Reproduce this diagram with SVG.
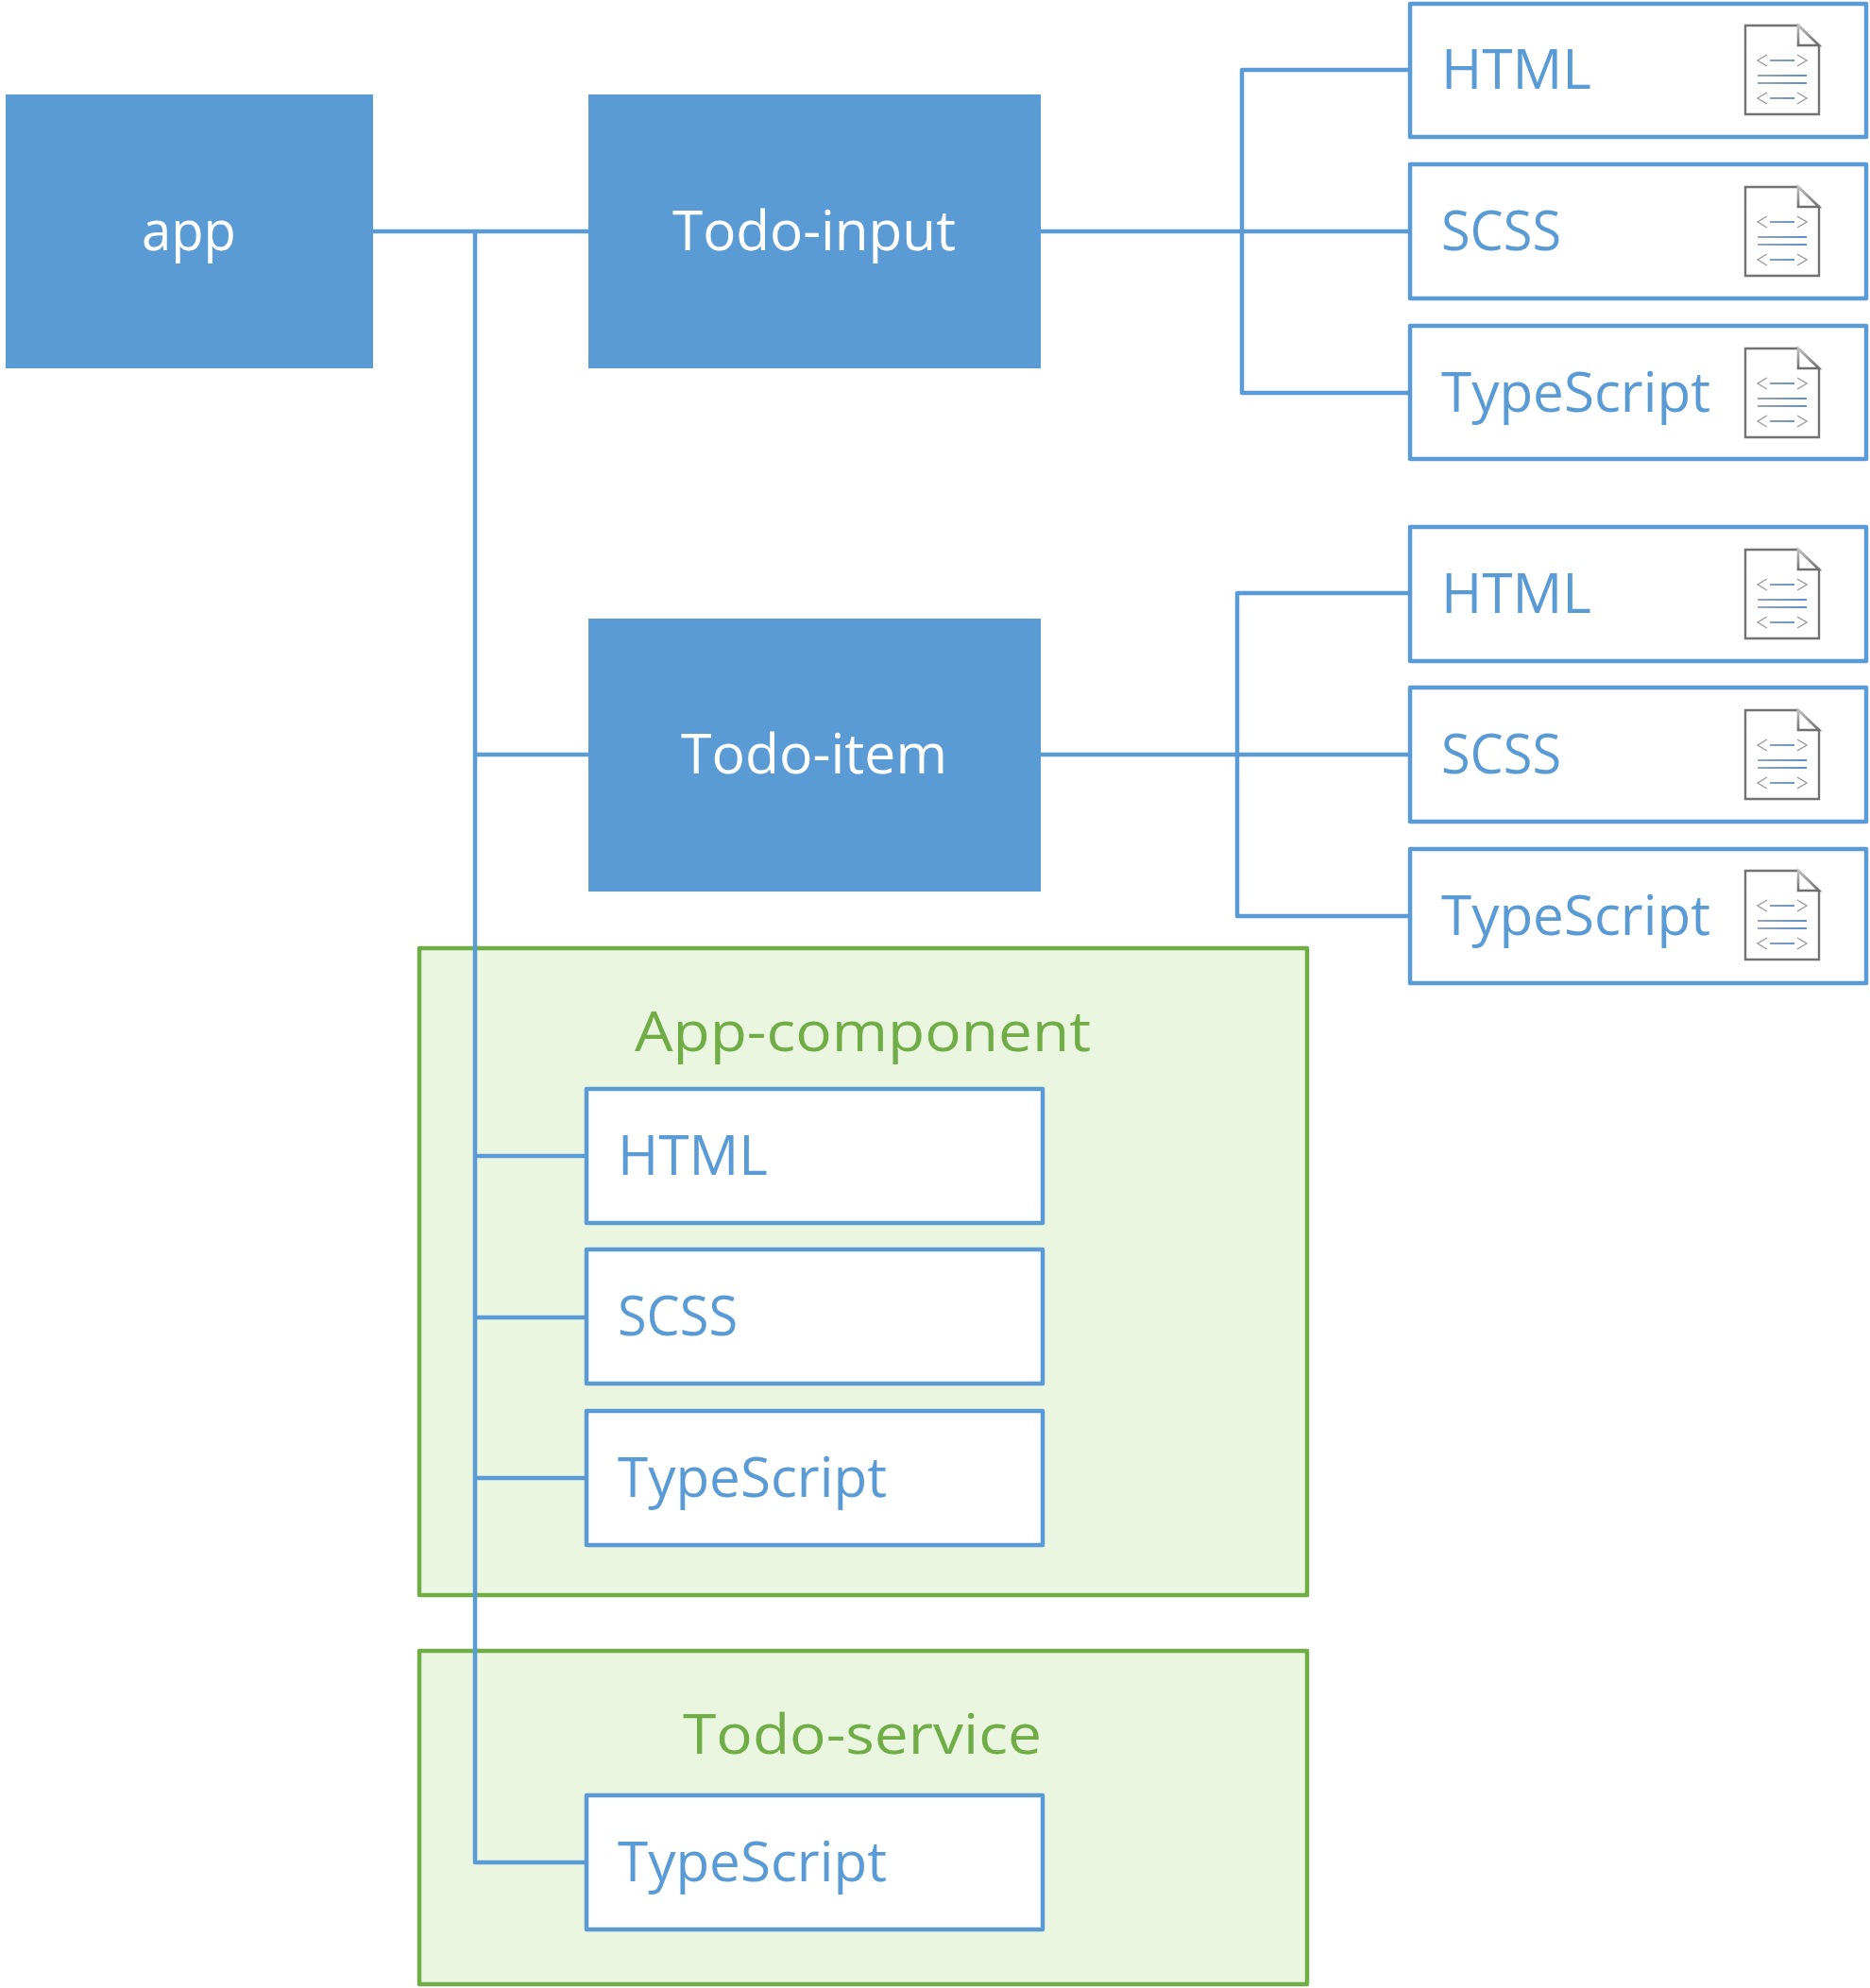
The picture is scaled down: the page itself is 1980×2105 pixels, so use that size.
<svg xmlns="http://www.w3.org/2000/svg" width="1980" height="2105" viewBox="0 0 1980 2105">
<style>
text{font-family:"Open Sans","Noto Sans","Liberation Sans",sans-serif;font-size:58px}
.solid{fill:#5b9bd5;stroke:none}
.box{fill:#fff;stroke:#5b9bd5;stroke-width:4.5;stroke-linejoin:round}
.group{fill:#eaf6e0;stroke:#70ad47;stroke-width:4.5;stroke-linejoin:round}
.w{fill:#fff}
.b{fill:#5b9bd5}
.g{fill:#70ad47}
.c{fill:none;stroke:#5b9bd5;stroke-width:4.5;stroke-linecap:round;stroke-linejoin:round}
.ic{fill:#fff;stroke:#737373;stroke-width:2.4}
.ar{fill:none;stroke:#9a9a9a;stroke-width:1.4}
.ln{fill:none;stroke:url(#lg);stroke-width:2}
</style>
<defs>
<linearGradient id="lg" gradientUnits="userSpaceOnUse" x1="0" y1="0" x2="52" y2="0"><stop offset="0" stop-color="#9aa5b0"/><stop offset="1" stop-color="#5b8fd0"/></linearGradient>
<linearGradient id="fold" x1="0" y1="0" x2="0" y2="1"><stop offset="0" stop-color="#c0c0c0"/><stop offset="1" stop-color="#6e6e6e"/></linearGradient>
<g id="file">
<path class="ic" d="M0 0H56L78 21V94H0Z"/>
<path d="M56 0L78 21H56Z" fill="#fff" stroke="url(#fold)" stroke-width="2.6"/>
<g transform="translate(13,0)">
<path class="ar" d="M10 31L0 37L10 43M42 31L52 37L42 43"/>
<path class="ln" d="M13 37H39"/>
<path class="ln" d="M0 53H52M0 61H52"/>
<path class="ar" d="M10 71L0 77L10 83M42 71L52 77L42 83"/>
<path class="ln" d="M13 77H39"/>
</g>
</g>
</defs>
<g id="group-app-component"><rect class="group" x="444" y="1004" width="940" height="685"/><text class="g" x="672" y="1113" textLength="483" lengthAdjust="spacingAndGlyphs">App-component</text></g>
<g id="group-todo-service"><rect class="group" x="444" y="1748" width="940" height="353"/><text class="g" x="723" y="1857" textLength="380" lengthAdjust="spacingAndGlyphs">Todo-service</text></g>
<g id="connectors">
<path class="c" d="M395 245H623M503 245V1972H621M503 799H623M503 1224H621M503 1395H621M503 1565H621"/>
<path class="c" d="M1102 245H1493M1315 74V416M1315 74H1493M1315 416H1493"/>
<path class="c" d="M1102 799H1493M1310 628V970M1310 628H1493M1310 970H1493"/>
</g>
<g id="app"><rect class="solid" x="6" y="100" width="389" height="290"/><text class="w" x="150" y="265" textLength="100" lengthAdjust="spacingAndGlyphs">app</text></g>
<g id="todo-input"><rect class="solid" x="623" y="100" width="479" height="290"/><text class="w" x="712" y="265" textLength="300" lengthAdjust="spacingAndGlyphs">Todo-input</text></g>
<g id="todo-item"><rect class="solid" x="623" y="655" width="479" height="289"/><text class="w" x="721" y="819" textLength="282" lengthAdjust="spacingAndGlyphs">Todo-item</text></g>
<g id="input-html"><rect class="box" x="1493" y="4" width="483" height="141"/><text class="b" x="1526" y="94" textLength="159" lengthAdjust="spacingAndGlyphs">HTML</text><use href="#file" x="1848" y="27"/></g>
<g id="input-scss"><rect class="box" x="1493" y="174" width="483" height="142"/><text class="b" x="1526" y="265" textLength="127" lengthAdjust="spacingAndGlyphs">SCSS</text><use href="#file" x="1848" y="198"/></g>
<g id="input-ts"><rect class="box" x="1493" y="345" width="483" height="141"/><text class="b" x="1526" y="436" textLength="285" lengthAdjust="spacingAndGlyphs">TypeScript</text><use href="#file" x="1848" y="369"/></g>
<g id="item-html"><rect class="box" x="1493" y="558" width="483" height="142"/><text class="b" x="1526" y="649" textLength="159" lengthAdjust="spacingAndGlyphs">HTML</text><use href="#file" x="1848" y="582"/></g>
<g id="item-scss"><rect class="box" x="1493" y="728" width="483" height="142"/><text class="b" x="1526" y="819" textLength="127" lengthAdjust="spacingAndGlyphs">SCSS</text><use href="#file" x="1848" y="752"/></g>
<g id="item-ts"><rect class="box" x="1493" y="899" width="483" height="142"/><text class="b" x="1526" y="990" textLength="285" lengthAdjust="spacingAndGlyphs">TypeScript</text><use href="#file" x="1848" y="922"/></g>
<g id="app-html"><rect class="box" x="621" y="1153" width="483" height="142"/><text class="b" x="654" y="1244" textLength="159" lengthAdjust="spacingAndGlyphs">HTML</text></g>
<g id="app-scss"><rect class="box" x="621" y="1323" width="483" height="142"/><text class="b" x="654" y="1414" textLength="127" lengthAdjust="spacingAndGlyphs">SCSS</text></g>
<g id="app-ts"><rect class="box" x="621" y="1494" width="483" height="142"/><text class="b" x="654" y="1585" textLength="285" lengthAdjust="spacingAndGlyphs">TypeScript</text></g>
<g id="service-ts"><rect class="box" x="621" y="1901" width="483" height="142"/><text class="b" x="654" y="1992" textLength="285" lengthAdjust="spacingAndGlyphs">TypeScript</text></g>
</svg>
